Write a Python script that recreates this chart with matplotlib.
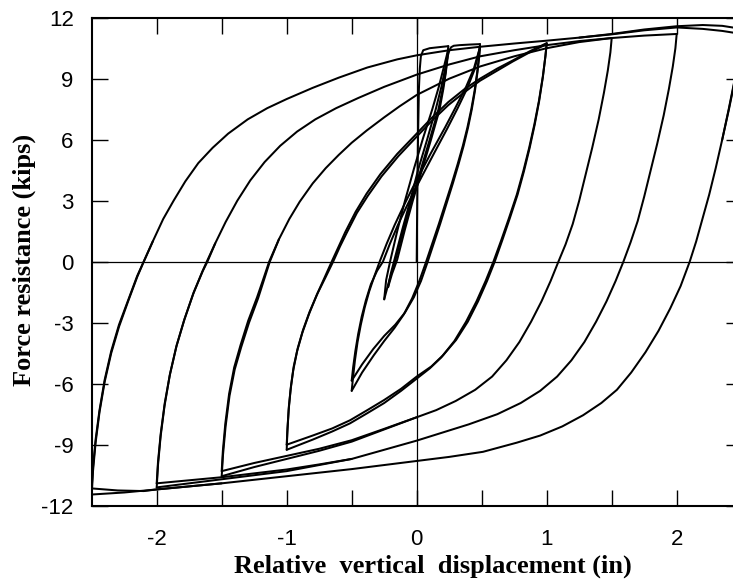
import matplotlib
matplotlib.use("Agg")
import matplotlib.pyplot as plt
from matplotlib.ticker import FixedLocator

plt.rcParams['font.family'] = ['Liberation Sans', 'DejaVu Sans']
plt.rcParams['axes.unicode_minus'] = False

# ---------------- data (x in inches, F in kips) ----------------
# initial loading and small cycles
virgin_x = [0.0, 0.004, 0.010, 0.017, 0.024, 0.032, 0.050, 0.100, 0.170, 0.243]
virgin_F = [0.0, 3.0, 6.0, 8.5, 9.5, 10.1, 10.4, 10.5, 10.55, 10.6]
s1_down_x = [0.243, 0.235, 0.222, 0.200, 0.166, 0.100, 0.030, -0.040, -0.100, -0.167, -0.210, -0.250]
s1_down_F = [10.6, 10.0, 9.3, 8.5, 7.46, 6.0, 4.5, 3.0, 1.6, 0.0, -0.9, -1.85]
s1_up_x = [-0.250, -0.235, -0.205, -0.150, -0.090, -0.020, 0.050, 0.120, 0.170, 0.210, 0.243]
s1_up_F = [-1.85, -0.9, 0.0, 1.5, 3.0, 4.6, 6.1, 7.5, 8.6, 9.6, 10.45]
s2_down_x = [0.243, 0.236, 0.224, 0.205, 0.175, 0.110, 0.040, -0.030, -0.090, -0.150, -0.190, -0.220]
s2_down_F = [10.45, 9.95, 9.3, 8.5, 7.46, 6.0, 4.5, 3.0, 1.6, 0.1, -0.6, -1.25]
s2_up_x = [-0.220, -0.200, -0.167, -0.110, -0.050, 0.010, 0.080, 0.145, 0.190, 0.222, 0.240,
           0.252, 0.265, 0.285, 0.330, 0.410, 0.487]
s2_up_F = [-1.25, -0.6, 0.2, 1.6, 3.0, 4.5, 6.0, 7.46, 8.6, 9.6, 10.15, 10.4, 10.55, 10.62,
           10.65, 10.68, 10.7]

# amplitude 0.5 in (two cycles)
a05_down_x = [0.487, 0.480, 0.465, 0.445, 0.420, 0.390, 0.355, 0.315, 0.270, 0.220, 0.170, 0.120,
              0.070, 0.020, -0.035, -0.100, -0.170, -0.250, -0.330, -0.420, -0.500]
a05_down_F = [10.7, 10.1, 9.3, 8.4, 7.5, 6.6, 5.7, 4.8, 3.85, 2.85, 1.85, 0.9, -0.05, -0.95,
              -1.8, -2.6, -3.25, -3.9, -4.6, -5.45, -6.35]
a05_up_x = [-0.500, -0.490, -0.475, -0.455, -0.430, -0.400, -0.365, -0.325, -0.285, -0.230,
            -0.170, -0.100, -0.030, 0.040, 0.110, 0.218, 0.300, 0.380, 0.440, 0.487]
a05_up_F = [-6.35, -5.7, -4.85, -3.95, -3.1, -2.25, -1.45, -0.7, 0.0, 0.9, 1.8, 2.75, 3.65, 4.5,
            5.35, 6.6, 7.6, 8.6, 9.5, 10.55]
a05_down2_x = [0.487, 0.481, 0.467, 0.448, 0.424, 0.395, 0.361, 0.322, 0.278, 0.229, 0.180, 0.131,
               0.082, 0.033, -0.022, -0.090, -0.165, -0.250, -0.335, -0.420, -0.500]
a05_down2_F = [10.6, 10.1, 9.3, 8.4, 7.5, 6.6, 5.7, 4.8, 3.85, 2.85, 1.85, 0.9, -0.05, -0.95,
               -1.75, -2.5, -3.1, -3.65, -4.3, -5.05, -5.85]
a05_up2_x = [-0.500, -0.489, -0.472, -0.450, -0.423, -0.391, -0.352, -0.305, -0.260, -0.205,
             -0.145, -0.075, -0.005, 0.065, 0.135, 0.235, 0.315, 0.390, 0.445, 0.487]
a05_up2_F = [-5.85, -5.2, -4.4, -3.55, -2.7, -1.9, -1.1, -0.45, 0.0, 0.9, 1.8, 2.75, 3.65, 4.5,
             5.35, 6.55, 7.55, 8.55, 9.45, 10.55]

# amplitude 1.0 in
a1_up_x = [-1.000, -0.995, -0.985, -0.970, -0.950, -0.920, -0.880, -0.830, -0.770, -0.710,
           -0.654, -0.600, -0.550, -0.470, -0.385, -0.280, -0.150, 0.000, 0.120, 0.243, 0.370,
           0.487, 0.620, 0.740, 0.870, 1.000]
a1_up_F = [-9.25, -8.4, -7.3, -6.3, -5.35, -4.4, -3.5, -2.6, -1.65, -0.8, 0.0, 0.75, 1.45, 2.45,
           3.35, 4.3, 5.3, 6.3, 7.1, 7.85, 8.5, 9.0, 9.5, 9.9, 10.35, 10.75]
a1_down_x = [1.000, 0.990, 0.970, 0.940, 0.905, 0.865, 0.820, 0.770, 0.710, 0.650, 0.590, 0.530,
             0.460, 0.380, 0.290, 0.190, 0.100, 0.000, -0.120, -0.250, -0.380, -0.513, -0.650,
             -0.800, -1.000]
a1_down_F = [10.75, 10.1, 9.1, 7.9, 6.75, 5.6, 4.45, 3.3, 2.15, 1.05, 0.0, -0.95, -1.95, -2.95,
             -3.9, -4.7, -5.25, -5.75, -6.35, -6.95, -7.45, -7.95, -8.35, -8.75, -9.25]
a1_up2_x = [-1.000, -0.994, -0.983, -0.967, -0.946, -0.915, -0.874, -0.823, -0.762, -0.700,
            -0.643, -0.590, -0.540, -0.460, -0.375, -0.270, -0.140, 0.000, 0.120, 0.243, 0.370,
            0.487, 0.620, 0.740, 0.870, 1.000]
a1_up2_F = [-9.0, -8.2, -7.1, -6.1, -5.15, -4.25, -3.35, -2.45, -1.55, -0.75, 0.0, 0.75, 1.4, 2.4,
            3.25, 4.2, 5.2, 6.15, 6.95, 7.7, 8.35, 8.9, 9.4, 9.85, 10.3, 10.7]
a1_down2_x = [1.000, 0.990, 0.971, 0.942, 0.908, 0.869, 0.825, 0.776, 0.717, 0.658, 0.600, 0.541,
              0.472, 0.393, 0.303, 0.203, 0.113, 0.000, -0.120, -0.250, -0.380, -0.513, -0.650,
              -0.800, -1.000]
a1_down2_F = [10.7, 10.1, 9.1, 7.9, 6.75, 5.6, 4.45, 3.3, 2.15, 1.05, 0.0, -0.95, -1.95, -2.95,
              -3.85, -4.6, -5.15, -5.65, -6.25, -6.8, -7.3, -7.8, -8.2, -8.55, -9.0]

# amplitude 1.5 in
a15_up_x = [-1.500, -1.490, -1.470, -1.440, -1.400, -1.350, -1.290, -1.220, -1.180, -1.130,
            -1.060, -0.980, -0.900, -0.800, -0.700, -0.600, -0.500, -0.385, -0.250, -0.130,
            0.000, 0.250, 0.487, 0.750, 1.000, 1.250, 1.500]
a15_up_F = [-10.55, -9.5, -8.1, -6.6, -5.3, -4.2, -3.0, -1.8, -1.0, 0.0, 1.1, 2.1, 2.95, 3.85,
            4.6, 5.25, 5.85, 6.45, 7.1, 7.65, 8.2, 9.0, 9.6, 10.1, 10.5, 10.8, 11.0]
a15_down_x = [1.500, 1.490, 1.470, 1.440, 1.400, 1.350, 1.300, 1.250, 1.200, 1.145, 1.090, 1.030,
              0.960, 0.880, 0.790, 0.690, 0.580, 0.450, 0.300, 0.150, 0.000, -0.250, -0.500,
              -0.750, -1.000, -1.250, -1.500]
a15_down_F = [11.0, 10.3, 9.4, 8.3, 7.0, 5.6, 4.3, 3.0, 1.85, 0.85, 0.0, -0.95, -1.95, -2.95,
              -3.95, -4.85, -5.65, -6.3, -6.85, -7.3, -7.65, -8.25, -8.85, -9.3, -9.7, -10.1,
              -10.55]
a15_up2_x = [-1.500, -1.491, -1.472, -1.443, -1.404, -1.355, -1.296, -1.228, -1.185, -1.135, -1.060]
a15_up2_F = [-10.3, -9.3, -7.95, -6.5, -5.2, -4.1, -2.9, -1.75, -0.95, 0.0, 1.1]
a15_down2_x = [0.000, -0.250, -0.500, -0.750, -1.000, -1.250, -1.500]
a15_down2_F = [-7.65, -8.22, -8.78, -9.2, -9.55, -9.9, -10.3]

# amplitude 2.0 in
a2_up_x = [-2.000, -1.990, -1.970, -1.940, -1.900, -1.850, -1.790, -1.720, -1.650, -1.615,
           -1.550, -1.470, -1.380, -1.280, -1.170, -1.050, -0.920, -0.780, -0.620, -0.450,
           -0.250, 0.000, 0.250, 0.487, 0.750, 1.000, 1.250, 1.500, 1.750, 2.000]
a2_up_F = [-11.1, -10.0, -8.6, -7.1, -5.6, -4.2, -2.9, -1.6, -0.5, 0.0, 0.9, 1.95, 3.0, 4.0, 4.9,
           5.7, 6.4, 7.0, 7.55, 8.05, 8.6, 9.2, 9.7, 10.1, 10.4, 10.65, 10.85, 11.0, 11.12, 11.2]
a2_down_x = [2.000, 1.990, 1.970, 1.940, 1.900, 1.850, 1.800, 1.750, 1.700, 1.645, 1.590, 1.530,
             1.460, 1.380, 1.290, 1.190, 1.080, 0.950, 0.800, 0.620, 0.400, 0.200, 0.000, -0.250,
             -0.500, -0.750, -1.000, -1.500, -2.000]
a2_down_F = [11.2, 10.5, 9.6, 8.5, 7.2, 5.8, 4.5, 3.2, 2.0, 0.95, 0.0, -0.95, -1.95, -2.95, -3.95,
             -4.85, -5.65, -6.35, -6.95, -7.5, -8.0, -8.4, -8.8, -9.25, -9.7, -10.0, -10.3, -10.7,
             -11.1]
a2_up2_x = [-2.000, -1.990, -1.969, -1.938, -1.897, -1.846, -1.785, -1.715, -1.645, -1.610, -1.550]
a2_up2_F = [-10.9, -9.85, -8.45, -6.95, -5.5, -4.1, -2.8, -1.5, -0.45, 0.0, 0.9]
a2_down2_x = [-0.500, -0.750, -1.000, -1.500, -2.000]
a2_down2_F = [-9.7, -9.97, -10.22, -10.6, -10.9]

# amplitude 2.5 in
a25_up_x = [-2.500, -2.490, -2.470, -2.440, -2.400, -2.350, -2.290, -2.220, -2.150, -2.100,
            -2.030, -1.950, -1.870, -1.780, -1.680, -1.570, -1.450, -1.300, -1.150, -1.000,
            -0.800, -0.600, -0.380, -0.150, 0.000, 0.250, 0.487, 0.750, 1.000, 1.250, 1.500,
            1.750, 2.000, 2.200, 2.350, 2.500]
a25_up_F = [-11.45, -10.3, -8.9, -7.4, -5.9, -4.5, -3.2, -1.95, -0.75, 0.0, 1.0, 2.1, 3.0, 3.95,
            4.85, 5.6, 6.3, 7.0, 7.55, 8.0, 8.55, 9.05, 9.55, 9.95, 10.15, 10.4, 10.57, 10.73,
            10.87, 11.02, 11.2, 11.42, 11.58, 11.64, 11.6, 11.45]
a25_down_x = [2.500, 2.490, 2.470, 2.440, 2.400, 2.350, 2.300, 2.250, 2.200, 2.150, 2.100, 2.030,
              1.950, 1.860, 1.760, 1.650, 1.540, 1.420, 1.280, 1.120, 0.950, 0.770, 0.510, 0.250,
              0.000, -0.500, -1.000, -1.500, -2.000, -2.250, -2.500]
a25_down_F = [11.4, 10.6, 9.7, 8.77, 7.5, 6.0, 4.6, 3.3, 2.15, 1.0, 0.0, -1.2, -2.3, -3.4, -4.45,
              -5.45, -6.3, -6.95, -7.55, -8.1, -8.55, -8.9, -9.35, -9.6, -9.8, -10.2, -10.55,
              -10.9, -11.2, -11.35, -11.45]
a25_up2_x = [-2.500, -2.490, -2.470, -2.440, -2.400, -2.350, -2.290, -2.220, -2.150, -2.100, -2.030]
a25_up2_F = [-11.15, -10.1, -8.75, -7.3, -5.8, -4.4, -3.1, -1.9, -0.7, 0.0, 1.0]
a25_down2_x = [-1.500, -2.000, -2.100, -2.300, -2.500]
a25_down2_F = [-10.9, -11.2, -11.28, -11.25, -11.15]
a25_top2_x = [1.250, 1.500, 1.750, 2.000, 2.200, 2.350, 2.500]
a25_top2_F = [11.02, 11.18, 11.38, 11.52, 11.45, 11.35, 11.2]
a25_desc2_x = [2.500, 2.490, 2.470, 2.442, 2.402, 2.350]
a25_desc2_F = [11.2, 10.5, 9.65, 8.75, 7.5, 6.0]

branches = [
    (virgin_x, virgin_F), (s1_down_x, s1_down_F), (s1_up_x, s1_up_F),
    (s2_down_x, s2_down_F), (s2_up_x, s2_up_F),
    (a05_down_x, a05_down_F), (a05_up_x, a05_up_F),
    (a05_down2_x, a05_down2_F), (a05_up2_x, a05_up2_F),
    (a1_down_x, a1_down_F), (a1_up_x, a1_up_F),
    (a1_down2_x, a1_down2_F), (a1_up2_x, a1_up2_F),
    (a15_down_x, a15_down_F), (a15_up_x, a15_up_F),
    (a15_down2_x, a15_down2_F), (a15_up2_x, a15_up2_F),
    (a2_down_x, a2_down_F), (a2_up_x, a2_up_F),
    (a2_down2_x, a2_down2_F), (a2_up2_x, a2_up2_F),
    (a25_down_x, a25_down_F), (a25_up_x, a25_up_F),
    (a25_down2_x, a25_down2_F), (a25_up2_x, a25_up2_F),
    (a25_top2_x, a25_top2_F), (a25_desc2_x, a25_desc2_F),
]

x_ticks = [-2, -1, 0, 1, 2]
x_minor = [-1.5, -0.5, 0.5, 1.5]
y_ticks = [-12, -9, -6, -3, 0, 3, 6, 9, 12]

# ---------------- figure ----------------
W, H = 733, 584
fig = plt.figure(figsize=(W / 100, H / 100), dpi=100)
ax = fig.add_axes([91.7 / W, 78.3 / H, 650 / W, 488 / H])

ax.axhline(0, color='black', lw=0.9, zorder=1)
ax.axvline(0, color='black', lw=0.9, zorder=1)
for bx, bF in branches:
    ax.plot(bx, bF, color='black', lw=1.45, solid_joinstyle='round',
            solid_capstyle='round', zorder=2)

ax.set_xlim(-2.5, 2.5)
ax.set_ylim(-12, 12)
ax.xaxis.set_major_locator(FixedLocator(x_ticks))
ax.xaxis.set_minor_locator(FixedLocator(x_minor))
ax.yaxis.set_major_locator(FixedLocator(y_ticks))
ax.set_xticklabels([str(v) for v in x_ticks])
ax.set_yticklabels([str(v) for v in y_ticks])
ax.tick_params(which='both', direction='in', length=11.5, width=1.0,
               top=True, right=True, labelsize=16)
ax.tick_params(axis='x', pad=17)
ax.tick_params(axis='y', pad=13)
for s in ax.spines.values():
    s.set_linewidth(1.5)

fig.text(433 / W, 11 / H, "Relative  vertical  displacement (in)",
         family=['Liberation Serif', 'DejaVu Serif'], weight='bold', size=19,
         ha='center', va='baseline')
fig.text(24 / W, 1 - 260 / H, "Force resistance (kips)",
         family=['Liberation Serif', 'DejaVu Serif'], weight='bold', size=19,
         rotation=90, ha='center', va='center')

fig.savefig("out.png", dpi=100)
